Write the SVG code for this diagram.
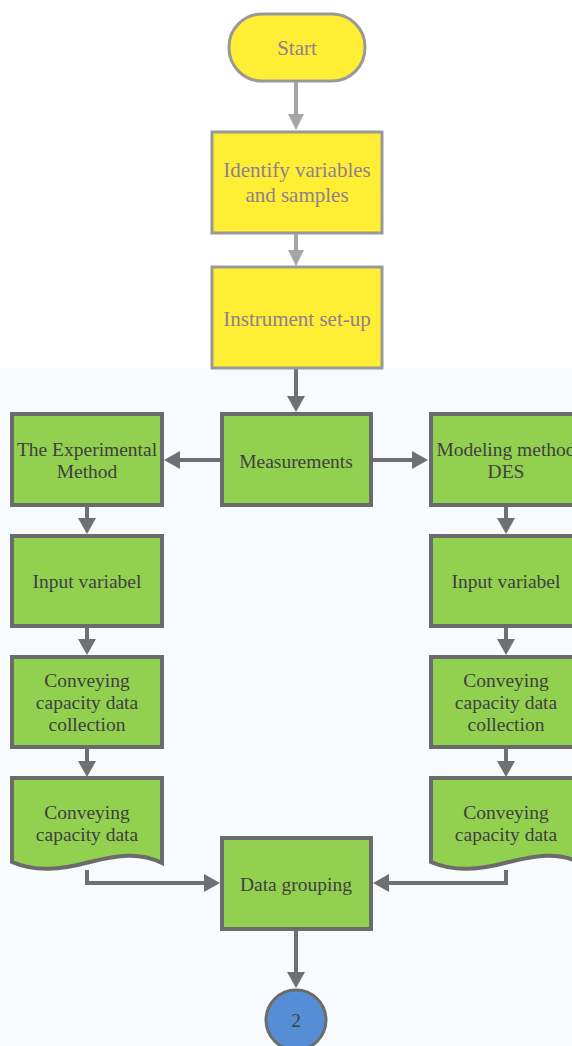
<svg xmlns="http://www.w3.org/2000/svg" width="572" height="1046" viewBox="0 0 572 1046">
<style>
.y{fill:#ffee33;stroke:#999999;stroke-width:3}
.g{fill:#92d050;stroke:#6b6b6b;stroke-width:4}
.ty{font-size:21px;fill:#8f8090}
.tg{font-size:19.5px;fill:#404040}
.cl{fill:none;stroke:#a6a6a6;stroke-width:4}
.cd{fill:none;stroke:#707070;stroke-width:4}
.hl{fill:#a6a6a6}
.hd{fill:#707070}
</style>
<rect x="0" y="0" width="572" height="1046" fill="#ffffff"/>
<rect x="0" y="368" width="572" height="678" fill="#f7fbfe"/>
<g id="connectors">
<path class="cl" d="M296,81 V116"/><path class="hl" d="M288,114 H304 L296,130 Z"/>
<path class="cl" d="M296,233 V252"/><path class="hl" d="M288,250 H304 L296,266 Z"/>
<path class="cd" d="M296,368 V398"/><path class="hd" d="M287,396 H305 L296,412 Z"/>
<path class="cd" d="M221,460 H178"/><path class="hd" d="M180,451 V469 L164,460 Z"/>
<path class="cd" d="M372,460 H414"/><path class="hd" d="M412,451 V469 L428,460 Z"/>
<path class="cd" d="M87,506 V520"/><path class="hd" d="M78,518 H96 L87,534 Z"/>
<path class="cd" d="M87,627 V641"/><path class="hd" d="M78,639 H96 L87,655 Z"/>
<path class="cd" d="M87,748 V763"/><path class="hd" d="M78,761 H96 L87,777 Z"/>
<path class="cd" d="M506,506 V520"/><path class="hd" d="M497,518 H515 L506,534 Z"/>
<path class="cd" d="M506,627 V641"/><path class="hd" d="M497,639 H515 L506,655 Z"/>
<path class="cd" d="M506,748 V763"/><path class="hd" d="M497,761 H515 L506,777 Z"/>
<path class="cd" d="M87,870 V883 H206"/><path class="hd" d="M204,874 V892 L220,883 Z"/>
<path class="cd" d="M506,870 V883 H387"/><path class="hd" d="M389,874 V892 L373,883 Z"/>
<path class="cd" d="M296,930 V974"/><path class="hd" d="M287,972 H305 L296,988 Z"/>
</g>
<g font-family="Liberation Serif, serif" text-anchor="middle">
<g id="start"><rect class="y" x="229" y="14" width="136" height="67" rx="33"/><text class="ty" x="297" y="55">Start</text></g>
<g id="identify"><rect class="y" x="212" y="132" width="170" height="101"/><text class="ty" x="297" y="177">Identify variables</text><text class="ty" x="297" y="202">and samples</text></g>
<g id="instrument"><rect class="y" x="212" y="267" width="170" height="101"/><text class="ty" x="297" y="326">Instrument set-up</text></g>
<g id="measurements"><rect class="g" x="222" y="414" width="149" height="91"/><text class="tg" x="296" y="468">Measurements</text></g>
<g id="experimental"><rect class="g" x="12" y="414" width="150" height="91"/><text class="tg" x="87" y="456">The Experimental</text><text class="tg" x="87" y="478">Method</text></g>
<g id="modeling"><rect class="g" x="431" y="414" width="150" height="91"/><text class="tg" x="506" y="456">Modeling method</text><text class="tg" x="506" y="478">DES</text></g>
<g id="input-left"><rect class="g" x="12" y="536" width="150" height="90"/><text class="tg" x="87" y="588">Input variabel</text></g>
<g id="input-right"><rect class="g" x="431" y="536" width="150" height="90"/><text class="tg" x="506" y="588">Input variabel</text></g>
<g id="collect-left"><rect class="g" x="12" y="657" width="150" height="90"/><text class="tg" x="87" y="687">Conveying</text><text class="tg" x="87" y="709">capacity data</text><text class="tg" x="87" y="731">collection</text></g>
<g id="collect-right"><rect class="g" x="431" y="657" width="150" height="90"/><text class="tg" x="506" y="687">Conveying</text><text class="tg" x="506" y="709">capacity data</text><text class="tg" x="506" y="731">collection</text></g>
<g id="data-left"><path class="g" d="M12,778 H162 V863 C140,852 118,855 90,862 C60,870 35,872 12,862 Z"/><text class="tg" x="87" y="819">Conveying</text><text class="tg" x="87" y="841">capacity data</text></g>
<g id="data-right"><path class="g" d="M431,778 H581 V863 C559,852 537,855 509,862 C479,870 454,872 431,862 Z"/><text class="tg" x="506" y="819">Conveying</text><text class="tg" x="506" y="841">capacity data</text></g>
<g id="grouping"><rect class="g" x="222" y="838" width="149" height="91"/><text class="tg" x="296" y="891">Data grouping</text></g>
<g id="connector-2"><circle cx="296" cy="1020" r="30" fill="#558ed5" stroke="#6b6b6b" stroke-width="3"/><text class="tg" x="296" y="1027" font-size="18">2</text></g>
</g>
</svg>
